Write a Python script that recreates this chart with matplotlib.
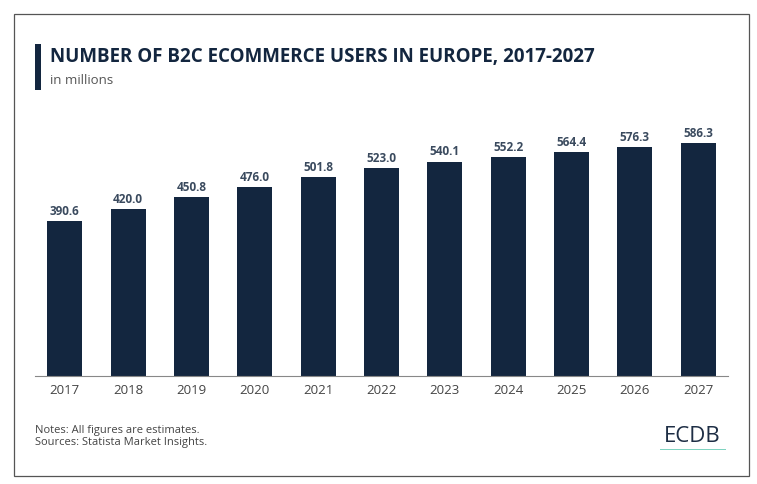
import matplotlib
matplotlib.use("Agg")
import matplotlib.pyplot as plt
from matplotlib.patches import Rectangle

years = ["2017","2018","2019","2020","2021","2022","2023","2024","2025","2026","2027"]
users = [390.6,420.0,450.8,476.0,501.8,523.0,540.1,552.2,564.4,576.3,586.3]

W, H = 757, 484
fig = plt.figure(figsize=(W/100, H/100), dpi=100)
fig.patch.set_facecolor("white")
navy = "#13263f"
plt.rcParams["font.family"] = "Open Sans"

fig.add_artist(Rectangle((14/W, 1-476/H), 735/W, 462/H, transform=fig.transFigure,
                         fill=False, edgecolor="#555555", lw=0.9))
fig.add_artist(Rectangle((35/W, 1-90/H), 6/W, 46/H, transform=fig.transFigure,
                         color=navy, lw=0))
fig.text(50/W, 1-57/H, "NUMBER OF B2C ECOMMERCE USERS IN EUROPE, 2017-2027",
         fontsize=13.5, fontweight="bold", color=navy, va="center")
fig.text(50/W, 1-81/H, "in millions", fontsize=9.5, color="#555555", va="center")

ax = fig.add_axes([35/W, 1-376/H, 693/W, 276/H])
x = range(len(years))
ax.bar(x, users, width=0.55, color=navy)
for i, v in zip(x, users):
    ax.text(i, v + 8, f"{v:.1f}", ha="center", va="bottom", fontsize=8.5,
            fontweight="bold", color="#3a4a5e")
ax.set_xlim(-0.47, len(years) - 0.53)
ax.set_ylim(0, 695)
ax.set_xticks(list(x))
ax.set_xticklabels(years, fontsize=9.5, color="#444444")
ax.tick_params(axis="x", length=0, pad=6)
ax.set_yticks([])
for s in ["top", "right", "left"]:
    ax.spines[s].set_visible(False)
ax.spines["bottom"].set_color("#888888")

fig.text(35/W, 1-430/H, "Notes: All figures are estimates.", fontsize=8, color="#444444", va="center")
fig.text(35/W, 1-443/H, "Sources: Statista Market Insights.", fontsize=8, color="#444444", va="center")
fig.text(692/W, 1-436/H, "ECDB", fontsize=16, color="#1e2e45", ha="center", va="center")
fig.add_artist(Rectangle((660/W, 1-450/H), 66/W, 1.5/H, transform=fig.transFigure,
                         color="#7fd3c0", lw=0))
fig.savefig("out.png", dpi=100)
